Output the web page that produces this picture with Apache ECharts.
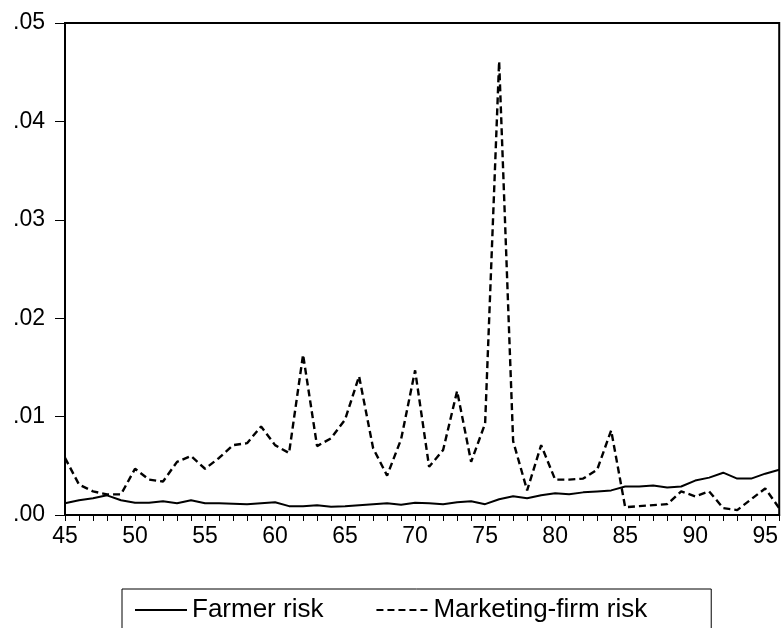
<!DOCTYPE html>
<html><head><meta charset="utf-8">
<script src="https://cdn.jsdelivr.net/npm/echarts@6/dist/echarts.min.js"></script>
<style>html,body{margin:0;padding:0;background:#fff}#c{width:781px;height:628px}</style>
</head><body><div id="c"></div>
<script>
const years = ['45','46','47','48','49','50','51','52','53','54','55','56','57','58','59','60','61','62','63','64','65','66','67','68','69','70','71','72','73','74','75','76','77','78','79','80','81','82','83','84','85','86','87','88','89','90','91','92','93','94','95','96'];
const farmerRisk = [0.0012,0.0015,0.0017,0.0020,0.0015,0.00125,0.00125,0.0014,0.0012,0.0015,0.0012,0.0012,0.00115,0.0011,0.0012,0.0013,0.0009,0.0009,0.0010,0.00085,0.0009,0.0010,0.0011,0.0012,0.00105,0.00125,0.0012,0.0011,0.0013,0.0014,0.0011,0.0016,0.0019,0.0017,0.0020,0.0022,0.0021,0.0023,0.0024,0.0025,0.0029,0.0029,0.0030,0.0028,0.0029,0.0035,0.0038,0.0043,0.0037,0.0037,0.0042,0.0046];
const marketingRisk = [0.0058,0.0031,0.0024,0.0021,0.0021,0.0047,0.0036,0.0034,0.0054,0.0060,0.0047,0.0058,0.0071,0.0073,0.0090,0.0071,0.0063,0.0163,0.0070,0.0078,0.0097,0.0141,0.0068,0.0040,0.0077,0.0147,0.0049,0.0066,0.0126,0.0054,0.0093,0.0461,0.0075,0.0025,0.0071,0.0036,0.0036,0.0037,0.0046,0.0086,0.0008,0.0009,0.0010,0.0011,0.0024,0.0019,0.0024,0.0007,0.0005,0.0016,0.0027,0.0007];
const xTickLabels = ['45','50','55','60','65','70','75','80','85','90','95'];
const yTickLabels = ['.00','.01','.02','.03','.04','.05'];
const seriesNames = ['Farmer risk','Marketing-firm risk'];

const FONT = 'Arial, "Liberation Sans", sans-serif';
const chart = echarts.init(document.getElementById('c'), null, {renderer:'canvas'});
chart.setOption({
  animation:false,
  backgroundColor:'#fff',
  grid:{left:65, right:1, top:23, bottom:113, show:true, borderColor:'#000', borderWidth:2, backgroundColor:'transparent'},
  xAxis:{
    type:'category', data:years, boundaryGap:false,
    axisLine:{show:true, lineStyle:{color:'#000', width:2}},
    axisTick:{show:true, interval:0, length:6, lineStyle:{color:'#000', width:1}},
    axisLabel:{interval:(i,v)=>xTickLabels.indexOf(v)>=0, color:'#000', fontSize:23, fontFamily:FONT, margin:10},
    splitLine:{show:false}
  },
  yAxis:{
    type:'value', min:0, max:0.05, interval:0.01,
    axisLine:{show:true, lineStyle:{color:'#000', width:2}},
    axisTick:{show:true, length:10, lineStyle:{color:'#000', width:1}},
    axisLabel:{color:'#000', fontSize:23, fontFamily:FONT, margin:20,
      formatter:v=>yTickLabels[Math.round(v/0.01)]},
    splitLine:{show:false}
  },
  legend:{
    left:122, top:589, orient:'horizontal',
    padding:[8,64,10,12], itemGap:52, itemWidth:52, itemHeight:14,
    borderColor:'#000', borderWidth:1, backgroundColor:'#fff',
    itemStyle:{opacity:0},
    textStyle:{color:'#000', fontSize:26, fontFamily:FONT},
    data:seriesNames
  },
  series:[
    {name:seriesNames[0], type:'line', data:farmerRisk, symbol:'none', lineStyle:{color:'#000', width:2, type:'solid'}, itemStyle:{color:'#000'}},
    {name:seriesNames[1], type:'line', data:marketingRisk, symbol:'none', lineStyle:{color:'#000', width:2.4, type:[7,4]}, itemStyle:{color:'#000'}}
  ]
});
</script></body></html>
